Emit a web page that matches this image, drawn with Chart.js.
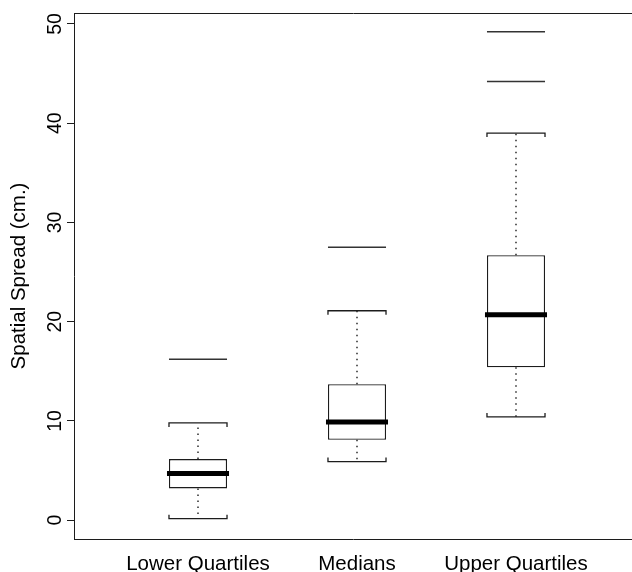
<!DOCTYPE html>
<html>
<head>
<meta charset="utf-8">
<script src="https://cdn.jsdelivr.net/npm/chart.js@4.4.1/dist/chart.umd.min.js"></script>
<style>
  html, body { margin: 0; padding: 0; background: #fff; }
  canvas { display: block; }
</style>
</head>
<body>
<canvas id="spread" width="632" height="572"></canvas>
<script>
// boxplot summary (cm.)
const categories = ['Lower Quartiles', 'Medians', 'Upper Quartiles']
const whiskerLow = [0.15, 5.9, 10.4]
const boxLow = [3.2, 8.1, 15.4]
const medians = [4.7, 9.9, 20.7]
const boxHigh = [6.15, 13.7, 26.7]
const whiskerHigh = [9.8, 21.1, 39.0]
const outliers = [[16.2], [27.5], [44.2, 49.2]]
const yTicks = [0, 10, 20, 30, 40, 50]

const ink = '#1c1c1c'
const family = '"Liberation Sans", Arial, sans-serif'
const tickFont = { family: family, size: 19.5 }
const labelFont = { family: family, size: 20.5 }
const boxWidth = 0.365   // in x units

const boxplotParts = {
    id: 'boxplotParts',
    afterDatasetsDraw(chart) {
        const ctx = chart.ctx
        const xs = chart.scales.x
        const ys = chart.scales.y
        const hook = 4

        ctx.save()
        ctx.strokeStyle = ink
        categories.forEach((c, i) => {
            const xc = xs.getPixelForValue(i + 1)
            const x0 = xs.getPixelForValue(i + 1 - boxWidth / 2)
            const x1 = xs.getPixelForValue(i + 1 + boxWidth / 2)
            const yLo = ys.getPixelForValue(whiskerLow[i])
            const yQ1 = ys.getPixelForValue(boxLow[i])
            const yQ3 = ys.getPixelForValue(boxHigh[i])
            const yHi = ys.getPixelForValue(whiskerHigh[i])

            // dotted whiskers
            ctx.lineWidth = 1.4
            ctx.setLineDash([1.5, 4.5])
            ctx.beginPath()
            ctx.moveTo(xc, yQ3); ctx.lineTo(xc, yHi)
            ctx.moveTo(xc, yQ1); ctx.lineTo(xc, yLo)
            ctx.stroke()
            ctx.setLineDash([])

            // staples with small hooks toward the box
            ctx.lineWidth = 1.3
            ctx.beginPath()
            ctx.moveTo(x0, yHi + hook); ctx.lineTo(x0, yHi); ctx.lineTo(x1, yHi); ctx.lineTo(x1, yHi + hook)
            ctx.moveTo(x0, yLo - hook); ctx.lineTo(x0, yLo); ctx.lineTo(x1, yLo); ctx.lineTo(x1, yLo - hook)
            ctx.stroke()

            // outliers drawn as dashes
            ctx.lineWidth = 1.5
            ctx.strokeStyle = '#333'
            outliers[i].forEach(v => {
                const yo = ys.getPixelForValue(v)
                ctx.beginPath()
                ctx.moveTo(x0, yo); ctx.lineTo(x1, yo)
                ctx.stroke()
            })
            ctx.strokeStyle = ink

            // median
            const ym = ys.getPixelForValue(medians[i])
            ctx.lineWidth = 5
            ctx.strokeStyle = '#000'
            ctx.beginPath()
            ctx.moveTo(x0 - 2, ym); ctx.lineTo(x1 + 2, ym)
            ctx.stroke()
            ctx.strokeStyle = ink
        })
        ctx.restore()
    }
}

const xRange = { min: 0.2201, max: 3.7296 }

new Chart(document.querySelector('#spread'), {
    type: 'bar',
    data: {
        datasets: [{
            data: categories.map((c, i) => ({ x: i + 1, y: [boxLow[i], boxHigh[i]] })),
            backgroundColor: '#fff',
            borderColor: ink,
            borderWidth: 1.3,
            borderSkipped: false,
            barPercentage: boxWidth,
            categoryPercentage: 1
        }]
    },
    options: {
        responsive: false,
        animation: false,
        layout: { padding: { top: 13, right: 0, bottom: 0, left: 0 } },
        plugins: { legend: { display: false }, tooltip: { enabled: false } },
        scales: {
            x: {
                type: 'linear',
                position: 'bottom',
                offset: false,
                min: xRange.min,
                max: xRange.max,
                afterBuildTicks: s => { s.ticks = [1, 2, 3].map(v => ({ value: v })) },
                afterFit: s => { s.height = 33 },
                ticks: {
                    callback: v => categories[v - 1],
                    font: labelFont,
                    color: '#000',
                    padding: 13,
                    maxRotation: 0,
                    autoSkip: false
                },
                grid: { display: false, drawTicks: false, offset: false },
                border: { display: true, color: ink, width: 1 }
            },
            xTop: {
                type: 'linear',
                position: 'top',
                offset: false,
                min: xRange.min,
                max: xRange.max,
                afterFit: s => { s.height = 0 },
                ticks: { display: false },
                grid: { display: false, drawTicks: false, offset: false },
                border: { display: true, color: ink, width: 1 }
            },
            y: {
                type: 'linear',
                min: -1.9,
                max: 51.1,
                afterBuildTicks: s => { s.ticks = yTicks.map(v => ({ value: v })) },
                afterFit: s => { s.width = 74 },
                ticks: {
                    font: tickFont,
                    color: '#000',
                    minRotation: 90,
                    maxRotation: 90,
                    crossAlign: 'center',
                    padding: 1
                },
                grid: { display: true, drawOnChartArea: false, drawTicks: true, tickLength: 7, color: ink, lineWidth: 1 },
                border: { display: true, color: ink, width: 1 },
                title: {
                    display: true,
                    text: 'Spatial Spread (cm.)',
                    font: labelFont,
                    color: '#000',
                    padding: { top: 7, bottom: 4 }
                }
            }
        }
    },
    plugins: [boxplotParts]
})
</script>
</body>
</html>
